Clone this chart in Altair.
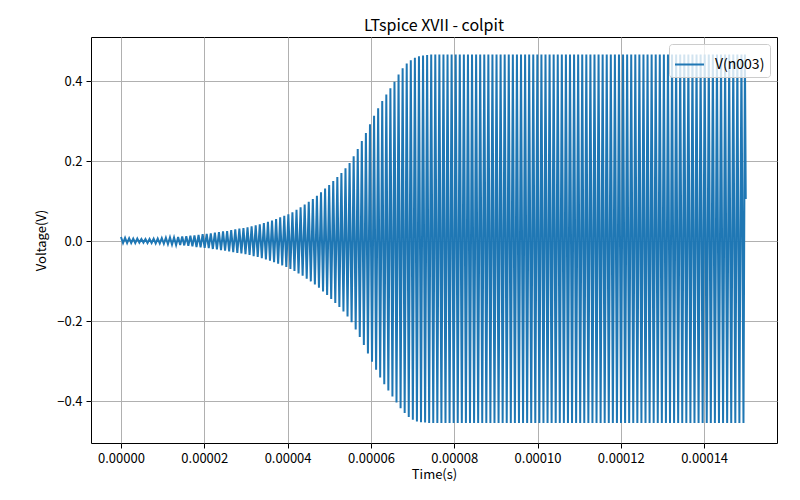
import altair as alt
import pandas as pd

# Times of the successive extrema of V(n003), in microseconds
t_us = [
    0, 0.49, 0.98, 1.47, 1.96, 2.45, 2.94, 3.43, 3.92, 4.41,
    4.9, 5.39, 5.88, 6.37, 6.86, 7.35, 7.84, 8.33, 8.82, 9.31,
    9.8, 10.29, 10.78, 11.27, 11.76, 12.25, 12.74, 13.23, 13.72, 14.21,
    14.7, 15.19, 15.68, 16.17, 16.66, 17.15, 17.64, 18.13, 18.62, 19.11,
    19.6, 20.09, 20.58, 21.07, 21.56, 22.05, 22.54, 23.03, 23.52, 24.01,
    24.5, 24.99, 25.48, 25.97, 26.46, 26.95, 27.44, 27.93, 28.42, 28.91,
    29.4, 29.89, 30.38, 30.87, 31.36, 31.85, 32.34, 32.83, 33.32, 33.81,
    34.3, 34.79, 35.28, 35.77, 36.26, 36.75, 37.24, 37.73, 38.22, 38.71,
    39.2, 39.69, 40.18, 40.67, 41.16, 41.65, 42.14, 42.63, 43.12, 43.61,
    44.1, 44.59, 45.08, 45.57, 46.06, 46.55, 47.04, 47.53, 48.02, 48.51,
    49, 49.49, 49.98, 50.47, 50.96, 51.45, 51.94, 52.43, 52.92, 53.41,
    53.9, 54.39, 54.88, 55.37, 55.86, 56.35, 56.84, 57.33, 57.82, 58.31,
    58.8, 59.29, 59.78, 60.27, 60.76, 61.25, 61.74, 62.23, 62.72, 63.21,
    63.7, 64.19, 64.68, 65.17, 65.66, 66.15, 66.64, 67.13, 67.62, 68.11,
    68.6, 69.09, 69.58, 70.07, 70.56, 71.05, 71.54, 72.03, 72.52, 73.01,
    73.5, 73.99, 74.48, 74.97, 75.46, 75.95, 76.44, 76.93, 77.42, 77.91,
    78.4, 78.89, 79.38, 79.87, 80.36, 80.85, 81.34, 81.83, 82.32, 82.81,
    83.3, 83.79, 84.28, 84.77, 85.26, 85.75, 86.24, 86.73, 87.22, 87.71,
    88.2, 88.69, 89.18, 89.67, 90.16, 90.65, 91.14, 91.63, 92.12, 92.61,
    93.1, 93.59, 94.08, 94.57, 95.06, 95.55, 96.04, 96.53, 97.02, 97.51,
    98, 98.49, 98.98, 99.47, 99.96, 100.45, 100.94, 101.43, 101.92, 102.41,
    102.9, 103.39, 103.88, 104.37, 104.86, 105.35, 105.84, 106.33, 106.82, 107.31,
    107.8, 108.29, 108.78, 109.27, 109.76, 110.25, 110.74, 111.23, 111.72, 112.21,
    112.7, 113.19, 113.68, 114.17, 114.66, 115.15, 115.64, 116.13, 116.62, 117.11,
    117.6, 118.09, 118.58, 119.07, 119.56, 120.05, 120.54, 121.03, 121.52, 122.01,
    122.5, 122.99, 123.48, 123.97, 124.46, 124.95, 125.44, 125.93, 126.42, 126.91,
    127.4, 127.89, 128.38, 128.87, 129.36, 129.85, 130.34, 130.83, 131.32, 131.81,
    132.3, 132.79, 133.28, 133.77, 134.26, 134.75, 135.24, 135.73, 136.22, 136.71,
    137.2, 137.69, 138.18, 138.67, 139.16, 139.65, 140.14, 140.63, 141.12, 141.61,
    142.1, 142.59, 143.08, 143.57, 144.06, 144.55, 145.04, 145.53, 146.02, 146.51,
    147, 147.49, 147.98, 148.47, 148.96, 149.45, 149.8,
]

# Positive peaks (one per cycle), volts
v_hi = [
    0.010, 0.008, 0.007, 0.006, 0.006, 0.005, 0.005, 0.005, 0.006, 0.006,
    0.007, 0.008, 0.009, 0.009, 0.010, 0.011, 0.012, 0.013, 0.014, 0.015,
    0.017, 0.018, 0.019, 0.021, 0.022, 0.024, 0.025, 0.027, 0.029, 0.031,
    0.032, 0.034, 0.037, 0.039, 0.042, 0.045, 0.048, 0.051, 0.055, 0.059,
    0.063, 0.067, 0.072, 0.078, 0.084, 0.091, 0.098, 0.105, 0.113, 0.122,
    0.131, 0.140, 0.150, 0.160, 0.170, 0.182, 0.195, 0.212, 0.230, 0.250,
    0.270, 0.292, 0.313, 0.332, 0.350, 0.366, 0.382, 0.398, 0.416, 0.432,
    0.444, 0.452, 0.458, 0.462, 0.464, 0.465,
    0.466, 0.466, 0.466, 0.466, 0.466, 0.466, 0.466, 0.466, 0.466, 0.466,
    0.466, 0.466, 0.466, 0.466, 0.466, 0.466, 0.466, 0.466, 0.466, 0.466,
    0.466, 0.466, 0.466, 0.466, 0.466, 0.466, 0.466, 0.466, 0.466, 0.466,
    0.466, 0.466, 0.466, 0.466, 0.466, 0.466, 0.466, 0.466, 0.466, 0.466,
    0.466, 0.466, 0.466, 0.466, 0.466, 0.466, 0.466, 0.466, 0.466, 0.466,
    0.466, 0.466, 0.466, 0.466, 0.466, 0.466, 0.466, 0.466, 0.466, 0.466,
    0.466, 0.466, 0.466, 0.466, 0.466, 0.466, 0.466, 0.466, 0.466, 0.466,
    0.466, 0.466, 0.466, 0.466, 0.466, 0.466, 0.466, 0.466,
]

# Negative troughs (one per cycle), volts
v_lo = [
    -0.005, -0.005, -0.005, -0.005, -0.004, -0.004, -0.005, -0.005, -0.006, -0.006,
    -0.007, -0.008, -0.009, -0.010, -0.010, -0.011, -0.012, -0.013, -0.015, -0.016,
    -0.017, -0.018, -0.020, -0.021, -0.023, -0.024, -0.026, -0.028, -0.030, -0.031,
    -0.033, -0.035, -0.038, -0.040, -0.043, -0.046, -0.049, -0.053, -0.057, -0.061,
    -0.065, -0.070, -0.075, -0.081, -0.087, -0.094, -0.101, -0.109, -0.117, -0.126,
    -0.135, -0.145, -0.155, -0.165, -0.176, -0.189, -0.203, -0.221, -0.240, -0.260,
    -0.281, -0.302, -0.322, -0.341, -0.358, -0.374, -0.389, -0.404, -0.418, -0.430,
    -0.440, -0.447, -0.451, -0.453, -0.454,
    -0.455, -0.455, -0.455, -0.455, -0.455, -0.455, -0.455, -0.455, -0.455, -0.455,
    -0.455, -0.455, -0.455, -0.455, -0.455, -0.455, -0.455, -0.455, -0.455, -0.455,
    -0.455, -0.455, -0.455, -0.455, -0.455, -0.455, -0.455, -0.455, -0.455, -0.455,
    -0.455, -0.455, -0.455, -0.455, -0.455, -0.455, -0.455, -0.455, -0.455, -0.455,
    -0.455, -0.455, -0.455, -0.455, -0.455, -0.455, -0.455, -0.455, -0.455, -0.455,
    -0.455, -0.455, -0.455, -0.455, -0.455, -0.455, -0.455, -0.455, -0.455, -0.455,
    -0.455, -0.455, -0.455, -0.455, -0.455, -0.455, -0.455, -0.455, -0.455, -0.455,
    -0.455, -0.455, -0.455, -0.455, -0.455, -0.455, -0.455, -0.455,
]

# Last sample of the simulation
t_end_us = 150.0
v_end = 0.105

x_ticks = [0, 0.00002, 0.00004, 0.00006, 0.00008, 0.0001, 0.00012, 0.00014]
y_ticks = [-0.4, -0.2, 0.0, 0.2, 0.4]
series_name = "V(n003)"

times = []
values = []
for n, t in enumerate(t_us):
    times.append(t)
    values.append(v_hi[n // 2] if n % 2 == 0 else v_lo[n // 2])
times.append(t_end_us)
values.append(v_end)

df = pd.DataFrame({
    "t": [t * 1e-6 for t in times],
    "v": values,
    "series": series_name,
    "idx": list(range(len(times))),
})

FONT = "Noto Sans CJK SC"

chart = (
    alt.Chart(df)
    .mark_line(strokeWidth=2, clip=True)
    .encode(
        x=alt.X(
            "t:Q",
            scale=alt.Scale(domain=[-0.0000072, 0.0001575], nice=False, zero=False),
            axis=alt.Axis(values=x_ticks, format=".5f", title="Time(s)", titlePadding=3),
        ),
        y=alt.Y(
            "v:Q",
            scale=alt.Scale(domain=[-0.505, 0.51], nice=False, zero=False),
            axis=alt.Axis(values=y_ticks, format=".1f", title="Voltage(V)", titlePadding=8),
        ),
        color=alt.Color(
            "series:N",
            scale=alt.Scale(range=["#1f77b4"]),
            legend=alt.Legend(
                title=None,
                orient="top-right",
                offset=7,
                padding=5,
                symbolType="stroke",
                symbolSize=841,
                symbolStrokeWidth=2,
                labelOffset=10,
                labelFontSize=14,
                labelFont=FONT,
                labelColor="black",
                fillColor="rgba(255,255,255,0.8)",
                strokeColor="#cccccc",
                cornerRadius=3,
            ),
        ),
        order="idx:Q",
    )
    .properties(
        width=686,
        height=406,
        autosize=alt.AutoSizeParams(type="none"),
        padding={"left": 83, "top": 29, "right": 15, "bottom": 45},
        title=alt.Title(
            "LTspice XVII - colpit",
            fontSize=16,
            font=FONT,
            fontWeight="normal",
            color="black",
            baseline="bottom",
            offset=6,
            dy=19,
        ),
    )
    .configure_view(stroke="black", strokeWidth=1)
    .configure_axis(
        domain=False,
        grid=True,
        gridColor="#b0b0b0",
        gridWidth=1,
        tickColor="black",
        tickSize=5,
        labelPadding=4,
        labelFont=FONT,
        labelFontSize=13,
        labelColor="black",
        titleFont=FONT,
        titleFontSize=13,
        titleFontWeight="normal",
        titleColor="black",
    )
)

chart.save("out.html", embed_options={"renderer": "svg", "actions": False})
